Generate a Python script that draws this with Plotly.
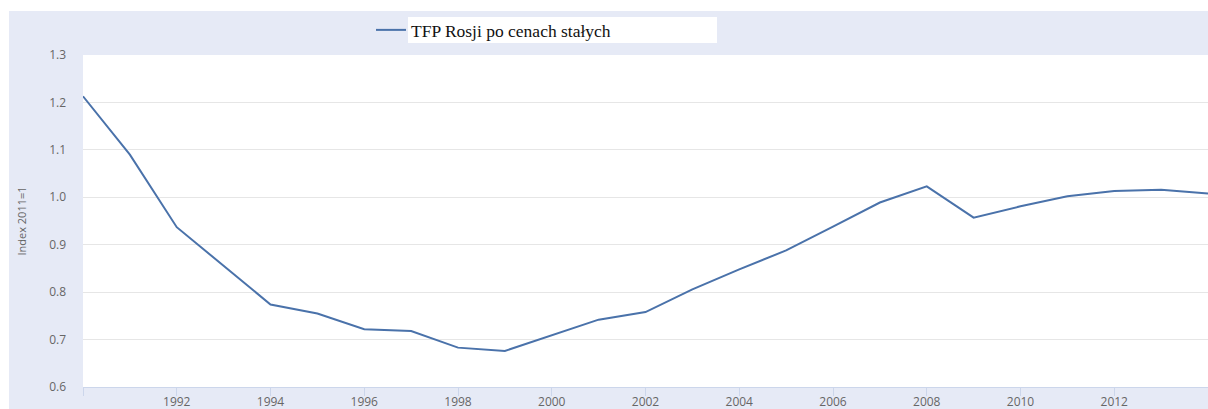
import plotly.graph_objects as go

years = list(range(1990, 2015))
tfp = [1.213, 1.090, 0.937, 0.855, 0.774, 0.755, 0.722, 0.718, 0.683, 0.676,
       0.709, 0.742, 0.758, 0.806, 0.848, 0.888, 0.938, 0.989, 1.023, 0.957,
       0.981, 1.002, 1.013, 1.016, 1.008]
series_name = "TFP Rosji po cenach stałych"
y_title = "Index 2011=1"
tick_years = [1990, 1992, 1994, 1996, 1998, 2000, 2002, 2004, 2006, 2008, 2010, 2012]
tick_labels = ["", "1992", "1994", "1996", "1998", "2000", "2002", "2004",
               "2006", "2008", "2010", "2012"]
y_ticks = [0.6, 0.7, 0.8, 0.9, 1.0, 1.1, 1.2, 1.3]
y_labels = ["0.6", "0.7", "0.8", "0.9", "1.0", "1.1", "1.2", "1.3"]

W, H = 1208, 409
L, R, T, B = 83, 0, 55, 22
pw = W - L - R
ph = H - T - B

LAV = "#e6eaf6"
LINE = "#4a72aa"

def px_x(px):
    return (px - L) / pw

def px_y(py):
    return 1 + (T - py) / ph

fig = go.Figure()
fig.add_trace(go.Scatter(x=years, y=tfp, mode="lines", name=series_name,
                         line=dict(color=LINE, width=2), showlegend=True))

shapes = [
    dict(type="rect", xref="paper", yref="paper", x0=-0.2, x1=1.1,
         y0=px_y(11), y1=px_y(-20), fillcolor="white", line_width=0, layer="below"),
    dict(type="rect", xref="paper", yref="paper", x0=-0.2, x1=px_x(9),
         y0=-0.3, y1=1.3, fillcolor="white", line_width=0, layer="below"),
    dict(type="rect", xref="paper", yref="paper", x0=px_x(408), x1=px_x(717),
         y0=px_y(43), y1=px_y(17), fillcolor="white", line_width=0, layer="above"),
]

fig.update_layout(
    width=W, height=H,
    margin=dict(l=L, r=R, t=T, b=B, autoexpand=False),
    paper_bgcolor=LAV,
    plot_bgcolor="white",
    shapes=shapes,
    showlegend=True,
    legend=dict(orientation="h", x=px_x(371), xanchor="left", y=px_y(30),
                yanchor="middle", bgcolor="rgba(0,0,0,0)",
                font=dict(family="Liberation Serif", size=17.5, color="#111111")),
    font=dict(family="Open Sans", size=12, color="#666666"),
    xaxis=dict(range=[1990, 2014], tickvals=tick_years, ticktext=tick_labels,
               showgrid=False, zeroline=False, showline=True, linecolor="#ccd6eb",
               linewidth=1, ticks="outside", ticklen=8, tickcolor="#ccd6eb",
               ticklabelstandoff=-4,
               tickfont=dict(family="Open Sans", size=12, color="#666666")),
    yaxis=dict(range=[0.6, 1.3], tickvals=y_ticks, ticktext=y_labels,
               showgrid=True, gridcolor="#e6e6e6", gridwidth=1, zeroline=False,
               showline=False, ticks="", ticklabelstandoff=16,
               tickfont=dict(family="Open Sans", size=12, color="#666666"),
               title=dict(text=y_title, standoff=20,
                          font=dict(family="Open Sans", size=11, color="#666666"))),
)

fig.write_html("out.html",
               config={"displayModeBar": False},
               post_script="document.body.style.margin='0';"
                           "document.body.style.overflow='hidden';")
